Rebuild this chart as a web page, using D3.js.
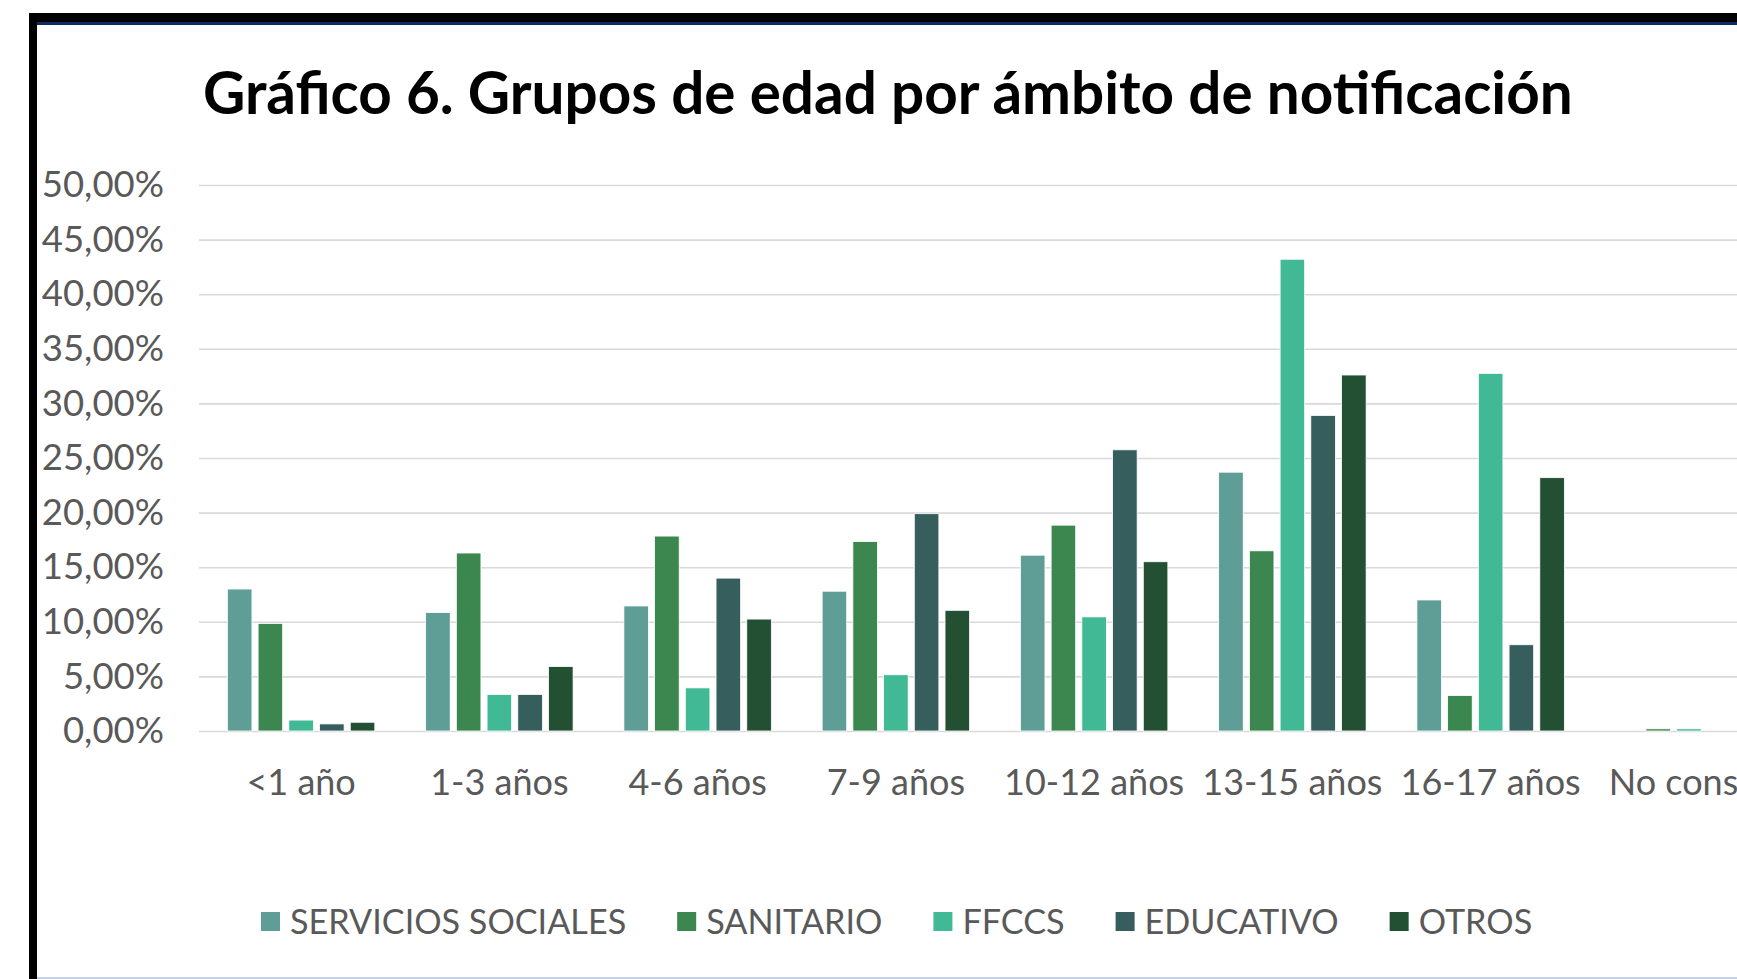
<!DOCTYPE html>
<html>
<head>
<meta charset="utf-8">
<script src="https://cdn.jsdelivr.net/npm/d3@7"></script>
<style>
  html, body { margin: 0; padding: 0; background: #fff; }
  svg { display: block; font-family: Lato, 'Open Sans', sans-serif; }
</style>
</head>
<body>
<div id="chart"></div>
<script>
const categories = ['<1 año', '1-3 años', '4-6 años', '7-9 años', '10-12 años', '13-15 años', '16-17 años', 'No consta']
const seriesNames = ['SERVICIOS SOCIALES', 'SANITARIO', 'FFCCS', 'EDUCATIVO', 'OTROS']
const seriesColors = ['#5f9e96', '#3b874f', '#40b994', '#355e5d', '#234f32']

// % de casos por grupo de edad
const serviciosSociales = [13.0, 10.85, 11.45, 12.8, 16.1, 23.7, 12.0, 0]
const sanitario = [9.85, 16.3, 17.85, 17.35, 18.85, 16.5, 3.25, 0.2]
const ffccs = [1.0, 3.35, 3.95, 5.15, 10.45, 43.2, 32.75, 0.2]
const educativo = [0.65, 3.35, 14.0, 19.9, 25.75, 28.9, 7.9, 0]
const otros = [0.8, 5.9, 10.25, 11.05, 15.5, 32.6, 23.2, 0]

const yTicks = [0, 5, 10, 15, 20, 25, 30, 35, 40, 45, 50]

const title = 'Gráfico 6. Grupos de edad por ámbito de notificación'

const seriesValues = [serviciosSociales, sanitario, ffccs, educativo, otros]
const rows = categories.map((c, i) => ({
  category: c,
  values: seriesNames.map((s, j) => ({ key: s, value: seriesValues[j][i], color: seriesColors[j] }))
}))

const width = 1737
const height = 979
const plotLeft = 199
const step = 199

const locale = d3.formatLocale({ decimal: ',', thousands: '.', grouping: [3], currency: ['', '€'] })
const fmt = locale.format('.2f')

const svg = d3.select('#chart')
  .append('svg')
  .attr('width', width)
  .attr('height', height)

// marco
svg.append('rect').attr('x', 29).attr('y', 13).attr('width', width - 29).attr('height', 9).attr('fill', '#000')
svg.append('rect').attr('x', 37).attr('y', 22).attr('width', width - 37).attr('height', 3).attr('fill', '#0d2b5c')
svg.append('rect').attr('x', 29).attr('y', 13).attr('width', 8).attr('height', height - 13).attr('fill', '#000')
svg.append('rect').attr('x', 37).attr('y', 977).attr('width', width - 37).attr('height', 2).attr('fill', '#c8cfe2')

const x0 = d3.scaleBand()
  .domain(categories)
  .range([plotLeft, plotLeft + step * categories.length])
  .paddingInner(0.25)
  .paddingOuter(0.14)

const x1 = d3.scaleBand()
  .domain(seriesNames)
  .range([0, x0.bandwidth()])
  .paddingInner(0.2)
  .paddingOuter(0.02)

const y = d3.scaleLinear()
  .domain([0, 50])
  .range([731, 185])

// rejilla
svg.append('g')
  .attr('transform', `translate(${plotLeft},0)`)
  .call(d3.axisLeft(y).tickValues(yTicks).tickSize(-(width - plotLeft)).tickFormat(''))
  .call(g => g.select('.domain').remove())
  .call(g => g.selectAll('line').attr('stroke', '#d9d9d9').attr('stroke-width', 1.6))

// eje y
svg.append('g')
  .attr('transform', `translate(${plotLeft},0)`)
  .call(d3.axisLeft(y).tickValues(yTicks).tickSize(0).tickPadding(35).tickFormat(d => fmt(d) + '%'))
  .call(g => g.select('.domain').remove())
  .call(g => g.selectAll('text')
    .attr('fill', '#595959')
    .attr('font-size', 36.5)
    .attr('font-family', 'Lato'))

// barras
svg.append('g')
  .selectAll('g')
  .data(rows)
  .join('g')
  .attr('transform', d => `translate(${x0(d.category)},0)`)
  .selectAll('rect')
  .data(d => d.values)
  .join('rect')
  .attr('x', d => x1(d.key))
  .attr('y', d => y(d.value))
  .attr('width', x1.bandwidth())
  .attr('height', d => y(0) - y(d.value))
  .attr('fill', d => d.color)
  .attr('stroke', '#fff')
  .attr('stroke-width', 0.8)

// eje x
svg.append('g')
  .attr('transform', `translate(0,${y(0)})`)
  .call(d3.axisBottom(x0).tickSize(0).tickPadding(0))
  .call(g => g.select('.domain').remove())
  .call(g => g.selectAll('text')
    .attr('fill', '#595959')
    .attr('font-size', 36)
    .attr('font-family', 'Lato')
    .attr('y', 51)
    .attr('dy', '0.35em'))

// título
const titleText = svg.append('text')
  .attr('x', 203)
  .attr('y', 114)
  .attr('font-weight', 'bold')
  .attr('font-size', 56)
  .attr('fill', '#000')
  .text(title)
const tw = titleText.node().getComputedTextLength()
titleText.attr('font-size', 56 * 1370 / tw)

// leyenda
const legend = svg.append('g').attr('transform', 'translate(261,922)')
let lx = 0
seriesNames.forEach((name, i) => {
  const item = legend.append('g').attr('transform', `translate(${lx},0)`)
  item.append('rect')
    .attr('x', 0).attr('y', -10)
    .attr('width', 19).attr('height', 19)
    .attr('fill', seriesColors[i])
  const t = item.append('text')
    .attr('x', 29)
    .attr('dy', '0.35em')
    .attr('fill', '#595959')
    .attr('font-size', 34.2)
    .text(name)
  lx += 29 + t.node().getComputedTextLength() + 51
})
</script>
</body>
</html>
